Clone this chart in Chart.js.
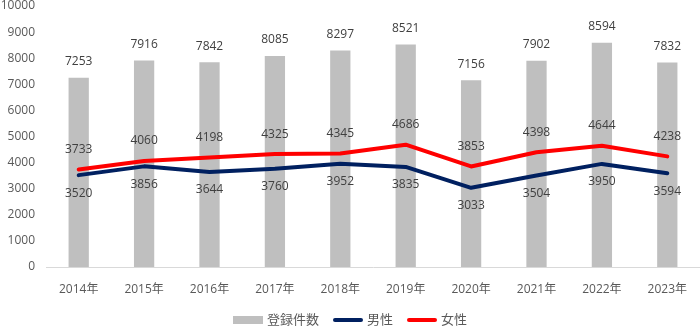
<!DOCTYPE html>
<html lang="ja">
<head>
<meta charset="utf-8">
<script src="https://cdn.jsdelivr.net/npm/chart.js@4/dist/chart.umd.min.js"></script>
<style>
    html, body { margin: 0; padding: 0; background: #fff; }
    #wrap { width: 700px; height: 327px; }
</style>
</head>
<body>
<div id="wrap"><canvas id="regChart"></canvas></div>
<script>
// Data
const years = ['2014年', '2015年', '2016年', '2017年', '2018年', '2019年', '2020年', '2021年', '2022年', '2023年'];
const totalCounts = [7253, 7916, 7842, 8085, 8297, 8521, 7156, 7902, 8594, 7832];
const maleCounts = [3520, 3856, 3644, 3760, 3952, 3835, 3033, 3504, 3950, 3594];
const femaleCounts = [3733, 4060, 4198, 4325, 4345, 4686, 3853, 4398, 4644, 4238];
const yTicks = [0, 1000, 2000, 3000, 4000, 5000, 6000, 7000, 8000, 9000, 10000];

const FONT = "'Open Sans', 'Noto Sans CJK JP', sans-serif";
const TEXT = '#404040';
const AXIS_TEXT = '#595959';

// Value labels: above bars, above the female line, below the male line
const valueLabels = {
    id: 'valueLabels',
    afterDatasetsDraw(chart) {
        const ctx = chart.ctx;
        ctx.save();
        ctx.font = '12px ' + FONT;
        ctx.fillStyle = TEXT;
        ctx.textAlign = 'center';
        ctx.textBaseline = 'middle';
        chart.data.datasets.forEach((ds, i) => {
            const meta = chart.getDatasetMeta(i);
            const offset = ds.labelOffset;
            meta.data.forEach((el, j) => {
                ctx.fillText(String(ds.data[j]), el.x, el.y + offset);
            });
        });
        ctx.restore();
    }
};

// Legend row along the bottom, built from the dataset styles
const bottomLegend = {
    id: 'bottomLegend',
    afterDraw(chart) {
        const ctx = chart.ctx;
        const y = chart.height - 7;
        const keyW = 30, keyGap = 4, itemGap = 14;
        ctx.save();
        ctx.font = '13px ' + FONT;
        ctx.textBaseline = 'middle';
        ctx.textAlign = 'left';

        const items = chart.data.datasets.map(ds => ({
            text: ds.label,
            type: ds.type,
            color: ds.borderColor || ds.backgroundColor,
            fill: ds.backgroundColor,
            width: keyW + keyGap + ctx.measureText(ds.label).width
        }));
        const total = items.reduce((a, it) => a + it.width, 0) + itemGap * (items.length - 1);
        let x = (chart.width - total) / 2;

        items.forEach(it => {
            if (it.type === 'bar') {
                ctx.fillStyle = it.fill;
                ctx.fillRect(x, y - 4, keyW, 8);
            } else {
                ctx.strokeStyle = it.color;
                ctx.lineWidth = 4;
                ctx.lineCap = 'round';
                ctx.beginPath();
                ctx.moveTo(x + 2, y);
                ctx.lineTo(x + keyW - 2, y);
                ctx.stroke();
            }
            ctx.fillStyle = AXIS_TEXT;
            ctx.fillText(it.text, x + keyW + keyGap, y);
            x += it.width + itemGap;
        });
        ctx.restore();
    }
};

function initChart() {
    const ctx = document.getElementById('regChart');
    if (!ctx) return;

    new Chart(ctx, {
        data: {
            labels: years,
            datasets: [
                {
                    type: 'bar',
                    label: '登録件数',
                    data: totalCounts,
                    backgroundColor: '#bfbfbf',
                    borderWidth: 0,
                    barPercentage: 0.31,
                    categoryPercentage: 1,
                    labelOffset: -16,
                    order: 2
                },
                {
                    type: 'line',
                    label: '男性',
                    data: maleCounts,
                    borderColor: '#002060',
                    backgroundColor: '#002060',
                    borderWidth: 4,
                    pointRadius: 0,
                    tension: 0,
                    borderJoinStyle: 'round',
                    borderCapStyle: 'round',
                    labelOffset: 18,
                    order: 1
                },
                {
                    type: 'line',
                    label: '女性',
                    data: femaleCounts,
                    borderColor: '#ff0000',
                    backgroundColor: '#ff0000',
                    borderWidth: 4,
                    pointRadius: 0,
                    tension: 0,
                    borderJoinStyle: 'round',
                    borderCapStyle: 'round',
                    labelOffset: -20,
                    order: 0
                }
            ]
        },
        options: {
            responsive: true,
            maintainAspectRatio: false,
            animation: false,
            layout: {
                padding: { top: 0, right: 0, bottom: 30, left: 0 }
            },
            plugins: {
                legend: { display: false },
                tooltip: { enabled: false }
            },
            scales: {
                x: {
                    grid: { display: false, drawTicks: false },
                    border: { display: true, color: '#d9d9d9', width: 1 },
                    ticks: {
                        color: AXIS_TEXT,
                        padding: 15,
                        font: { size: 12, family: FONT }
                    },
                    afterFit: axis => {
                        axis.paddingLeft = 0;
                        axis.paddingRight = 0;
                        axis.height = 30;
                    }
                },
                y: {
                    min: 0,
                    max: 10000,
                    afterBuildTicks: axis => {
                        axis.ticks = yTicks.map(v => ({ value: v }));
                    },
                    grid: { display: false, drawTicks: false },
                    border: { display: false },
                    ticks: {
                        color: AXIS_TEXT,
                        padding: 11,
                        font: { size: 12, family: FONT },
                        callback: value => String(value)
                    },
                    afterFit: axis => {
                        axis.paddingTop = 6;
                        axis.width = 46;
                    }
                }
            }
        },
        plugins: [valueLabels, bottomLegend]
    });
}

initChart();
</script>
</body>
</html>
